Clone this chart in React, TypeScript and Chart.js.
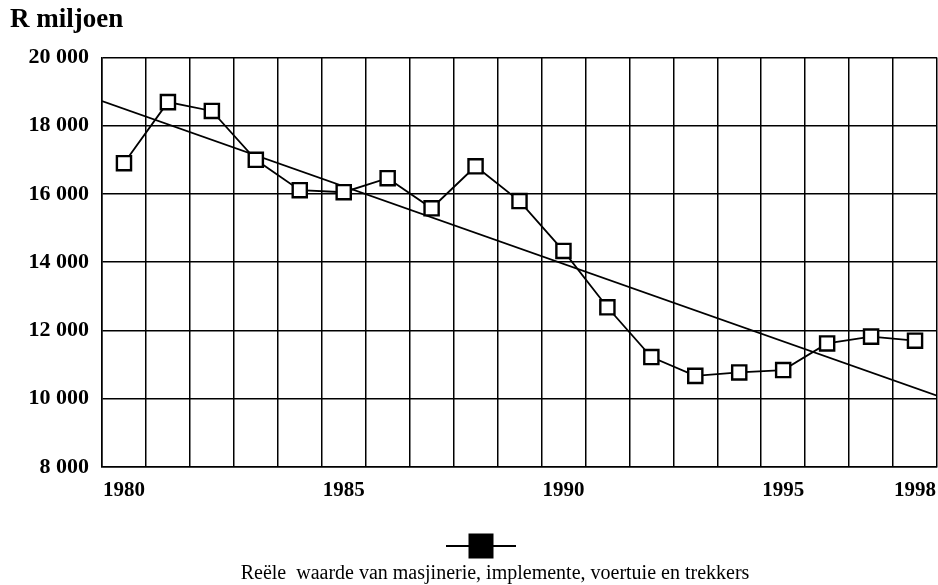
import React, { useEffect, useRef } from "react";
import { Chart, registerables } from "chart.js";

Chart.register(...registerables);

const years = ["1980","1981","1982","1983","1984","1985","1986","1987","1988","1989","1990","1991","1992","1993","1994","1995","1996","1997","1998"];
const shownYears = ["1980", "1985", "1990", "1995", "1998"];
const realValue = [16900, 18690, 18430, 17000, 16110, 16050, 16460, 15580, 16810, 15790, 14330, 12680, 11220, 10670, 10770, 10840, 11620, 11820, 11700];
const trendX = [-0.5, 18.5];
const trendY = [18720, 10090];
const yTicks = [8000, 10000, 12000, 14000, 16000, 18000, 20000];
const titleText = "R miljoen";
const legendText = "Reële  waarde van masjinerie, implemente, voertuie en trekkers";

const SERIF = "'Liberation Serif', 'Times New Roman', serif";

const legendPlugin = {
  id: "customLegend",
  afterDraw(chart: any) {
    const ctx = chart.ctx;
    const cx = 481;
    const my = 546;
    ctx.save();
    ctx.strokeStyle = "#000";
    ctx.lineWidth = 2;
    ctx.beginPath();
    ctx.moveTo(cx - 35, my);
    ctx.lineTo(cx + 35, my);
    ctx.stroke();
    ctx.fillStyle = "#000";
    ctx.fillRect(cx - 12.5, my - 12.5, 25, 25);
    ctx.font = `20px ${SERIF}`;
    ctx.textAlign = "center";
    ctx.textBaseline = "middle";
    ctx.fillText(legendText, 495, 574);
    ctx.restore();
  },
};

export default function App() {
  const ref = useRef<HTMLCanvasElement>(null);
  useEffect(() => {
    if (!ref.current) return;
    const chart = new Chart(ref.current, {
      type: "line",
      data: {
        labels: years,
        datasets: [
          {
            label: legendText,
            data: realValue,
            borderColor: "#000",
            borderWidth: 1.8,
            backgroundColor: "#fff",
            pointStyle: "rect",
            pointRadius: 10,
            pointBorderWidth: 2.4,
            pointBackgroundColor: "#fff",
            pointBorderColor: "#000",
            tension: 0,
            order: 0,
          },
          {
            label: "trend",
            data: trendX.map((x, i) => ({ x, y: trendY[i] })),
            xAxisID: "x2",
            borderColor: "#000",
            borderWidth: 1.6,
            pointRadius: 0,
            order: 1,
          } as any,
        ],
      },
      options: {
        animation: false,
        responsive: false,
        layout: { autoPadding: false, padding: { left: 10, right: 1, top: 0, bottom: 0 } },
        plugins: {
          legend: { display: false },
          tooltip: { enabled: false },
          title: {
            display: true,
            text: titleText,
            align: "start",
            color: "#000",
            font: { family: SERIF, size: 27, weight: "bold" },
            padding: { top: 4, bottom: 21 },
          },
        },
        scales: {
          x: {
            type: "category",
            offset: true,
            grid: { offset: true, color: "#000", lineWidth: 1.5, drawTicks: false },
            border: { color: "#000", width: 1.5 },
            afterFit: (s: any) => { s.height = 118; s.paddingLeft = 0; s.paddingRight = 0; },
            ticks: {
              autoSkip: false,
              maxRotation: 0,
              padding: 11,
              color: "#000",
              font: { family: SERIF, size: 21, weight: "bold" },
              callback: (v: any, i: number) => (shownYears.includes(years[i]) ? years[i] : ""),
            },
          },
          x2: {
            type: "linear",
            display: false,
            min: trendX[0],
            max: trendX[1],
          },
          y: {
            min: yTicks[0],
            max: yTicks[yTicks.length - 1],
            afterFit: (s: any) => { s.width = 92; },
            afterBuildTicks: (s: any) => { s.ticks = yTicks.map((v) => ({ value: v })); },
            grid: { color: "#000", lineWidth: 1.5, drawTicks: false },
            border: { color: "#000", width: 1.5 },
            ticks: {
              padding: 13,
              color: "#000",
              font: { family: SERIF, size: 22, weight: "bold" },
              callback: (v: any) => String(v).replace(/\B(?=(\d{3})+(?!\d))/g, " "),
            },
          },
        },
      },
      plugins: [legendPlugin],
    });
    return () => chart.destroy();
  }, []);
  return (
    <div style={{ position: "absolute", left: 0, top: 0, width: 938, height: 585, background: "#fff" }}>
      <canvas ref={ref} width={938} height={585} style={{ display: "block" }} />
    </div>
  );
}
